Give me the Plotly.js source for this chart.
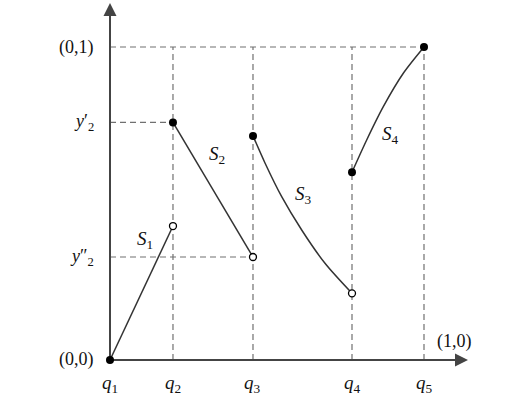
<!DOCTYPE html>
<html>
<head>
<meta charset="utf-8">
<script src="https://cdn.plot.ly/plotly-3.0.1.min.js"></script>
<style>html,body{margin:0;padding:0;background:#fff;}#chart{width:529px;height:407px;}</style>
</head>
<body>
<div id="chart"></div>
<script>
// Partition points on the x axis
const qLabels = ['<i>q</i><sub>1</sub>', '<i>q</i><sub>2</sub>', '<i>q</i><sub>3</sub>', '<i>q</i><sub>4</sub>', '<i>q</i><sub>5</sub>'];
const qValues = [0, 0.2006, 0.4554, 0.7707, 1.0];

// Levels on the y axis
const yLevelLabels = ['(0,1)', '<i>y</i>′<sub>2</sub>', '<i>y</i>″<sub>2</sub>', '(0,0)'];
const yLevelValues = [1.0, 0.759, 0.329, 0.0];

// Segments S1..S4
const s1x = [0, 0.2006];
const s1y = [0, 0.428];
const s2x = [0.2006, 0.4554];
const s2y = [0.759, 0.329];
const s3x = [0.4554, 0.4936, 0.5468, 0.6105, 0.6847, 0.7707];
const s3y = [0.716, 0.6294, 0.5217, 0.4153, 0.3089, 0.213];
const s4x = [0.7707, 0.8175, 0.8704, 0.9341, 1.0];
const s4y = [0.600, 0.7029, 0.8093, 0.9160, 1.0];

const segLabels = ['<i>S</i><sub>1</sub>', '<i>S</i><sub>2</sub>', '<i>S</i><sub>3</sub>', '<i>S</i><sub>4</sub>'];
const segLabelX = [0.111, 0.341, 0.615, 0.892];
const segLabelY = [0.383, 0.655, 0.527, 0.719];

// Endpoint markers
const filledX = [0, 0.2006, 0.4554, 0.7707, 1.0];
const filledY = [0, 0.759, 0.716, 0.600, 1.0];
const openX = [0.2006, 0.4554, 0.7707];
const openY = [0.428, 0.329, 0.213];

const lineCol = '#333';
const fontFam = '"Liberation Serif", "DejaVu Serif", serif';
const xEnd = 1.1401, yEnd = 1.1406;

function seg(x, y) {
  return {x: x, y: y, mode: 'lines', type: 'scatter', line: {color: lineCol, width: 1.5, shape: 'spline', smoothing: 0.8}, hoverinfo: 'skip', cliponaxis: false};
}
function axisTrace(x, y) {
  return {x: x, y: y, mode: 'lines', type: 'scatter', line: {color: '#444', width: 2}, cliponaxis: false, hoverinfo: 'skip'};
}

const traces = [
  axisTrace([0, xEnd - 0.02], [0, 0]),
  axisTrace([0, 0], [0, yEnd - 0.02]),
  seg(s1x, s1y), seg(s2x, s2y), seg(s3x, s3y), seg(s4x, s4y),
  {x: openX, y: openY, mode: 'markers', type: 'scatter', marker: {size: 7, color: '#fff', line: {color: '#000', width: 1.3}}, cliponaxis: false},
  {x: filledX, y: filledY, mode: 'markers', type: 'scatter', marker: {size: 8, color: '#000'}, cliponaxis: false}
];

const dash = '6px,4px';
const dashCol = '#707070';
const shapes = [];
function guide(x0, x1, y0, y1) {
  shapes.push({type: 'line', xref: 'x', yref: 'y', x0: x0, x1: x1, y0: y0, y1: y1, line: {color: dashCol, width: 1.2, dash: dash}, layer: 'below'});
}
guide(0, qValues[4], yLevelValues[0], yLevelValues[0]);
guide(0, qValues[1], yLevelValues[1], yLevelValues[1]);
guide(0, qValues[2], yLevelValues[2], yLevelValues[2]);
for (let i = 1; i < qValues.length; i++) guide(qValues[i], qValues[i], 0, yLevelValues[0]);

const annotations = [];
// arrowheads
annotations.push({x: xEnd, y: 0, ax: -12, ay: 0, xref: 'x', yref: 'y', showarrow: true, arrowhead: 2, arrowsize: 1.3, arrowwidth: 2, arrowcolor: '#444', text: '', standoff: 0});
annotations.push({x: 0, y: yEnd, ax: 0, ay: 12, xref: 'x', yref: 'y', showarrow: true, arrowhead: 2, arrowsize: 1.3, arrowwidth: 2, arrowcolor: '#444', text: '', standoff: 0});
qLabels.forEach((t, i) => annotations.push({x: qValues[i], y: -0.0767, xref: 'x', yref: 'y', text: t, showarrow: false, font: {family: fontFam, size: 19, color: '#111'}, xanchor: 'center', yanchor: 'middle'}));
yLevelLabels.forEach((t, i) => annotations.push({x: -0.045, y: yLevelValues[i], xref: 'x', yref: 'y', text: t, showarrow: false, font: {family: fontFam, size: 18, color: '#111'}, xanchor: 'right', yanchor: 'middle'}));
annotations.push({x: 1.035, y: 0.058, xref: 'x', yref: 'y', text: '(1,0)', showarrow: false, font: {family: fontFam, size: 18, color: '#111'}, xanchor: 'left', yanchor: 'middle'});
segLabels.forEach((t, i) => annotations.push({x: segLabelX[i], y: segLabelY[i], xref: 'x', yref: 'y', text: t, showarrow: false, font: {family: fontFam, size: 19, color: '#111'}, xanchor: 'center', yanchor: 'middle'}));

const layout = {
  width: 529, height: 407,
  margin: {l: 0, r: 0, t: 0, b: 0},
  paper_bgcolor: '#fff', plot_bgcolor: '#fff',
  showlegend: false,
  xaxis: {range: [-0.3503, 1.3344], visible: false, fixedrange: true},
  yaxis: {range: [-0.1502, 1.1502], visible: false, fixedrange: true},
  shapes: shapes,
  annotations: annotations
};

Plotly.newPlot('chart', traces, layout, {staticPlot: true, displayModeBar: false});
</script>
</body>
</html>
